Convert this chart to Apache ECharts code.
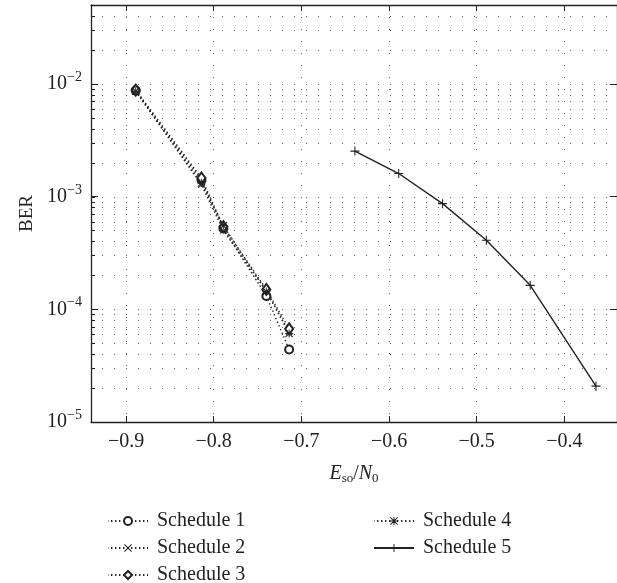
<!DOCTYPE html>
<html>
<head>
<meta charset="utf-8">
<script src="https://cdn.jsdelivr.net/npm/echarts@6/dist/echarts.min.js"></script>
<style>
  html, body { margin: 0; padding: 0; background: #fff; }
  #chart { width: 617px; height: 583px; }
</style>
</head>
<body>
<div id="chart"></div>
<script>
// Es/N0 values of the first four schedules
var esnoLeft = [-0.889, -0.814, -0.789, -0.740, -0.714];
var berSchedule1 = [8.7e-3, 1.40e-3, 5.2e-4, 1.31e-4, 4.4e-5];
var berSchedule2 = [8.6e-3, 1.27e-3, 5.0e-4, 1.45e-4, 6.3e-5];
var berSchedule3 = [8.8e-3, 1.46e-3, 5.4e-4, 1.50e-4, 6.7e-5];
var berSchedule4 = [8.6e-3, 1.32e-3, 5.5e-4, 1.44e-4, 6.1e-5];
// schedule 5
var esnoSchedule5 = [-0.639, -0.589, -0.539, -0.489, -0.439, -0.364];
var berSchedule5 = [2.53e-3, 1.60e-3, 8.65e-4, 4.1e-4, 1.63e-4, 2.08e-5];

var seriesNames = ['Schedule 1', 'Schedule 2', 'Schedule 3', 'Schedule 4', 'Schedule 5'];
var xMin = -0.94, xMax = -0.34;
var yMin = 1e-5, yMax = 5e-2;
var decades = [-5, -4, -3, -2];
var mantissas = [1, 2, 3, 4, 5, 6, 7, 8, 9];

// log grid values (1..9 x each decade)
var gridValues = [];
decades.forEach(function (d) {
  mantissas.forEach(function (m) {
    var v = m * Math.pow(10, d);
    if (v > yMin * 1.0001 && v < yMax * 0.9999) gridValues.push(v);
  });
});

var font = 'Liberation Serif';
var ink = '#222';

function pairs(xs, ys) {
  return xs.map(function (x, i) { return [x, ys[i]]; });
}

var crossPath = 'path://M0.9,0L5,4.1L9.1,0L10,0.9L5.9,5L10,9.1L9.1,10L5,5.9L0.9,10L0,9.1L4.1,5L0,0.9Z';
var plusPath = 'path://M0,4.4H10V5.6H0Z M4.4,0H5.6V10H4.4Z';
var starPath = plusPath + ' ' + crossPath.replace('path://', '');

var dotted = { color: ink, width: 1.4, type: [1.4, 2.6] };

var chart = echarts.init(document.getElementById('chart'));

var legendBase = {
  orient: 'vertical', top: 511, height: 80, itemGap: 7, padding: 0,
  itemWidth: 40, itemHeight: 10,
  textStyle: { fontFamily: font, fontSize: 20, color: ink, padding: [0, 0, 0, 4] }
};

option = {
  backgroundColor: '#fff',
  animation: false,
  textStyle: { fontFamily: font, color: ink },
  grid: { left: 91, top: 5, width: 529, height: 417, containLabel: false },
  legend: [
    Object.assign({}, legendBase, { left: 107, data: seriesNames.slice(0, 3) }),
    Object.assign({}, legendBase, { left: 373, data: seriesNames.slice(3) })
  ],
  xAxis: [{
    type: 'value', min: xMin, max: xMax,
    name: '{i|E}{sub|so}{n|/}{i|N}{sub|0}',
    nameLocation: 'middle', nameGap: 40,
    nameTextStyle: {
      rich: {
        i: { fontFamily: font, fontStyle: 'italic', fontSize: 20, color: ink },
        n: { fontFamily: font, fontSize: 20, color: ink },
        sub: { fontFamily: font, fontSize: 13, color: ink, padding: [10, 0, 0, 0] }
      }
    },
    axisLine: { lineStyle: { color: ink, width: 1.3 } },
    axisTick: { inside: true, length: 6, lineStyle: { color: ink } },
    axisLabel: {
      fontFamily: font, fontSize: 20, color: ink, margin: 10,
      showMinLabel: false, showMaxLabel: false,
      formatter: function (v) { return (v < 0 ? '\u2212' : '') + Math.abs(v).toFixed(1); }
    },
    splitLine: { show: true, lineStyle: { color: '#666', width: 1, type: [1, 11] } }
  }, {
    type: 'value', min: xMin, max: xMax, position: 'top',
    axisLine: { show: true, lineStyle: { color: ink, width: 1.3 } },
    axisTick: { show: true, inside: true, length: 6, lineStyle: { color: ink } },
    axisLabel: { show: false },
    splitLine: { show: false }
  }],
  yAxis: [{
    type: 'log', min: yMin, max: yMax, logBase: 10,
    name: 'BER', nameLocation: 'middle', nameGap: 54,
    nameTextStyle: { fontFamily: font, fontSize: 19, color: ink },
    axisLine: { show: true, lineStyle: { color: ink, width: 1.3 } },
    axisTick: { show: true, inside: true, length: 7, lineStyle: { color: ink } },
    axisLabel: {
      margin: 9, showMaxLabel: false,
      formatter: function (v) {
        var e = Math.round(Math.log(v) / Math.LN10);
        return '{b|10}{s|\u2212' + Math.abs(e) + '}';
      },
      rich: {
        b: { fontFamily: font, fontSize: 20, color: ink },
        s: { fontFamily: font, fontSize: 14, color: ink, padding: [0, 0, 13, 0] }
      }
    },
    splitLine: { show: false }
  }, {
    type: 'log', min: yMin, max: yMax, logBase: 10, position: 'right',
    axisLine: { show: true, lineStyle: { color: ink, width: 1.3 } },
    axisTick: { show: true, inside: true, length: 7, lineStyle: { color: ink } },
    axisLabel: { show: false },
    splitLine: { show: false }
  }],
  series: [{
    type: 'custom', silent: true, z: 1,
    data: gridValues.map(function (v) { return [xMin, v]; }),
    renderItem: function (params, api) {
      var cs = params.coordSys;
      var y = Math.round(api.coord([api.value(0), api.value(1)])[1]) + 0.5;
      return {
        type: 'group',
        children: [{
          type: 'line',
          shape: { x1: cs.x, y1: y, x2: cs.x + cs.width, y2: y },
          style: { stroke: '#666', lineWidth: 1, lineDash: [1, 11], lineDashOffset: -11 }
        }, {
          type: 'line',
          shape: { x1: cs.x, y1: y, x2: cs.x + 4, y2: y },
          style: { stroke: ink, lineWidth: 1 }
        }]
      };
    }
  }, {
    name: 'Schedule 1', type: 'line', z: 3,
    data: pairs(esnoLeft, berSchedule1),
    symbol: 'emptyCircle', symbolSize: 8,
    itemStyle: { color: ink, borderWidth: 1.2 },
    lineStyle: dotted
  }, {
    name: 'Schedule 2', type: 'line', z: 3,
    data: pairs(esnoLeft, berSchedule2),
    symbol: crossPath, symbolSize: 7,
    itemStyle: { color: ink },
    lineStyle: dotted
  }, {
    name: 'Schedule 3', type: 'line', z: 3,
    data: pairs(esnoLeft, berSchedule3),
    symbol: 'emptyDiamond', symbolSize: [8, 11],
    itemStyle: { color: ink, borderWidth: 1.2 },
    lineStyle: dotted
  }, {
    name: 'Schedule 4', type: 'line', z: 3,
    data: pairs(esnoLeft, berSchedule4),
    symbol: starPath, symbolSize: 8,
    itemStyle: { color: ink },
    lineStyle: dotted
  }, {
    name: 'Schedule 5', type: 'line', z: 3,
    data: pairs(esnoSchedule5, berSchedule5),
    symbol: plusPath, symbolSize: 9,
    itemStyle: { color: ink },
    lineStyle: { color: ink, width: 1.4, type: 'solid' }
  }]
};

chart.setOption(option);
</script>
</body>
</html>
